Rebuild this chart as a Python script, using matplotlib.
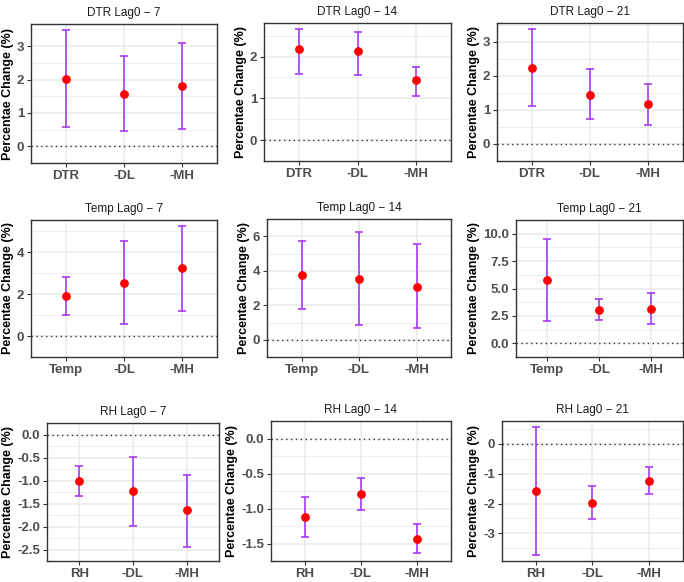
import matplotlib
matplotlib.use("Agg")
import matplotlib.pyplot as plt
import numpy as np

plt.rcParams['font.family'] = ['Liberation Sans', 'DejaVu Sans']

# panel titles, row by row
titles = ["DTR Lag0 \u2212 7", "DTR Lag0 \u2212 14", "DTR Lag0 \u2212 21",
          "Temp Lag0 \u2212 7", "Temp Lag0 \u2212 14", "Temp Lag0 \u2212 21",
          "RH Lag0 \u2212 7", "RH Lag0 \u2212 14", "RH Lag0 \u2212 21"]

cats_dtr = ["DTR", "-DL", "-MH"]
cats_temp = ["Temp", "-DL", "-MH"]
cats_rh = ["RH", "-DL", "-MH"]

# point estimates and 95% CI (percentage change)
est = [
    [2.03, 1.58, 1.81],
    [2.18, 2.13, 1.43],
    [2.22, 1.44, 1.16],
    [1.90, 2.54, 3.23],
    [3.78, 3.53, 3.06],
    [5.74, 3.06, 3.16],
    [-1.02, -1.22, -1.65],
    [-1.12, -0.79, -1.43],
    [-1.57, -1.98, -1.26],
]
lower = [
    [0.59, 0.46, 0.52],
    [1.58, 1.56, 1.06],
    [1.10, 0.72, 0.56],
    [1.01, 0.58, 1.19],
    [1.80, 0.86, 0.67],
    [2.04, 2.12, 1.73],
    [-1.34, -1.98, -2.45],
    [-1.41, -1.02, -1.64],
    [-3.71, -2.53, -1.69],
]
upper = [
    [3.49, 2.71, 3.11],
    [2.67, 2.59, 1.75],
    [3.38, 2.20, 1.75],
    [2.83, 4.55, 5.27],
    [5.70, 6.27, 5.53],
    [9.54, 4.06, 4.57],
    [-0.68, -0.48, -0.89],
    [-0.84, -0.56, -1.22],
    [0.55, -1.42, -0.78],
]

yticks = [
    [0, 1, 2, 3], [0, 1, 2], [0, 1, 2, 3],
    [0, 2, 4], [0, 2, 4, 6], [0, 2.5, 5, 7.5, 10],
    [0, -0.5, -1, -1.5, -2, -2.5], [0, -0.5, -1, -1.5], [0, -1, -2, -3],
]
ytick_labels = [
    ["0", "1", "2", "3"], ["0", "1", "2"], ["0", "1", "2", "3"],
    ["0", "2", "4"], ["0", "2", "4", "6"], ["0.0", "2.5", "5.0", "7.5", "10.0"],
    ["0.0", "-0.5", "-1.0", "-1.5", "-2.0", "-2.5"], ["0.0", "-0.5", "-1.0", "-1.5"],
    ["0", "-1", "-2", "-3"],
]
cats = [cats_dtr] * 3 + [cats_temp] * 3 + [cats_rh] * 3

# panel boxes in pixels: left, right, top, bottom
W, H = 684, 582
boxes = [
    (31, 217, 24, 163), (264, 451, 23, 161), (497, 682.5, 23, 161),
    (31, 217, 220, 357), (267, 451, 219, 357), (516, 682.5, 220, 357),
    (47, 219, 423, 561), (271, 451, 421, 561), (502, 682.5, 421, 561),
]

fig = plt.figure(figsize=(W / 100, H / 100), dpi=100)

for i in range(9):
    l, r, t, b = boxes[i]
    ax = fig.add_axes([l / W, 1 - b / H, (r - l) / W, (b - t) / H])
    x = np.arange(3)
    e = np.array(est[i])
    lo = np.array(lower[i])
    hi = np.array(upper[i])

    # ggplot-like limits: 5% expansion, including the zero line
    ymin = min(0, lo.min())
    ymax = max(0, hi.max())
    pad = 0.05 * (ymax - ymin)
    ax.set_ylim(ymin - pad, ymax + pad)
    ax.set_xlim(-0.6, 2.6)

    # grid, minor lines halfway between major ticks
    step = abs(yticks[i][1] - yticks[i][0])
    minor = np.arange(min(yticks[i]) - step / 2, max(yticks[i]) + step, step)
    ax.set_yticks(minor, minor=True)
    ax.grid(True, which='major', color='#EBEBEB', lw=1.1, zorder=0)
    ax.grid(True, which='minor', axis='y', color='#EBEBEB', lw=0.6, zorder=0)
    ax.set_axisbelow(True)

    ax.axhline(0, color='#333333', ls=(0, (1, 2.5)), lw=1.0, zorder=1)
    ax.errorbar(x, e, yerr=[e - lo, hi - e], fmt='none', ecolor='#A83CF5',
                elinewidth=1.2, capsize=2.8, capthick=1.2, zorder=2)
    ax.plot(x, e, 'o', color='#FF0000', ms=5.3, zorder=3)

    ax.set_xticks(x)
    ax.set_xticklabels(cats[i], fontsize=9.5, fontweight='bold', color='#4D4D4D')
    ax.set_yticks(yticks[i])
    ax.set_yticklabels(ytick_labels[i], fontsize=9.5, fontweight='bold', color='#4D4D4D')
    ax.tick_params(which='major', length=3, width=0.8, color='#333333', pad=2)
    ax.tick_params(which='minor', length=0)
    for s in ax.spines.values():
        s.set_color('#333333')
        s.set_linewidth(1.0)

    ax.set_ylabel("Percentae Change (%)", fontsize=9, fontweight='bold', labelpad=2)
    ax.set_title(titles[i], fontsize=8.5, color='#1A1A1A', fontweight='normal', pad=6)

fig.savefig("out.png", dpi=100)
